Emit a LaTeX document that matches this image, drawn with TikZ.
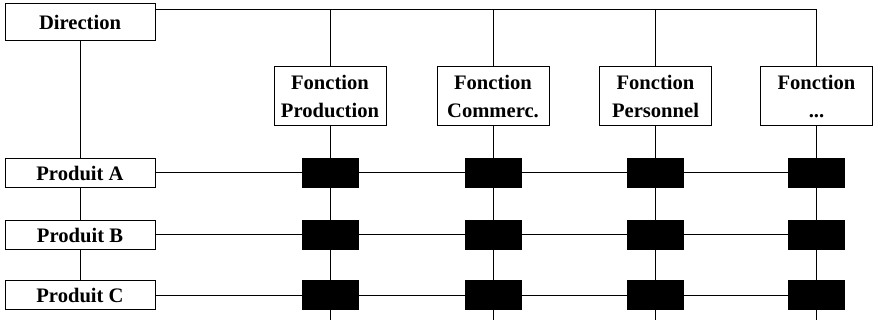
\documentclass[tikz,border=0pt]{standalone}
\usepackage{fontspec}
\setmainfont{Liberation Serif}
\begin{document}
\begin{tikzpicture}[x=1pt,y=1pt,line width=1pt,
  txt/.style={font=\fontsize{20.6}{28.7}\selectfont\bfseries},
  wbox/.style={draw,fill=white,inner sep=0pt,txt,align=center},
  prodbox/.style={wbox,minimum width=150pt,minimum height=29pt},
  fbox/.style={wbox,minimum width=112pt,minimum height=59pt},
  blk/.style={draw,fill=black,minimum width=56pt,minimum height=29pt,inner sep=0pt}]
\useasboundingbox (0,0) rectangle (874,320);
% nodes
\node[wbox,minimum width=150pt,minimum height=37pt] (dir) at (80,297.5) {Direction};
\node[fbox] (f1) at (330,223.5) {Fonction\\Production};
\node[fbox] (f2) at (493,223.5) {Fonction\\Commerc.};
\node[fbox] (f3) at (655.5,223.5) {Fonction\\Personnel};
\node[fbox] (f4) at (816.5,223.5) {Fonction\\...};
\node[prodbox] (pA) at (80,147) {Produit A};
\node[prodbox] (pB) at (80,85) {Produit B};
\node[prodbox] (pC) at (80,24.5) {Produit C};
\coordinate (topr) at (816.5,310);
% column coordinates at the bottom edge
\foreach \i in {1,2,3,4}{\coordinate (b\i) at (f\i.center |- 0,0);}
% connectors
\draw ([yshift=-6pt]dir.north east) -- ([yshift=-6pt]dir.north east -| topr) -- (f4.north);
\foreach \i in {1,2,3}{\draw (f\i.north) -- (f\i.north |- topr);}
\foreach \i in {1,2,3,4}{\draw (f\i.south) -- (b\i);}
\draw (dir.south) -- (pA.north);
\draw (pA.south) -- (pB.north);
\draw (pB.south) -- (pC.north);
\draw (pA.east) -- (pA.east -| f4.center);
\draw (pB.east) -- (pB.east -| f4.center);
\draw (pC.east) -- (pC.east -| f4.center);
% black boxes
\foreach \i in {1,2,3,4}{
  \node[blk] (a\i) at (pA.center -| f\i.center) {};
  \node[blk] (bb\i) at (pB.center -| f\i.center) {};
  \node[blk] (c\i) at (pC.center -| f\i.center) {};
}
\end{tikzpicture}
\end{document}
